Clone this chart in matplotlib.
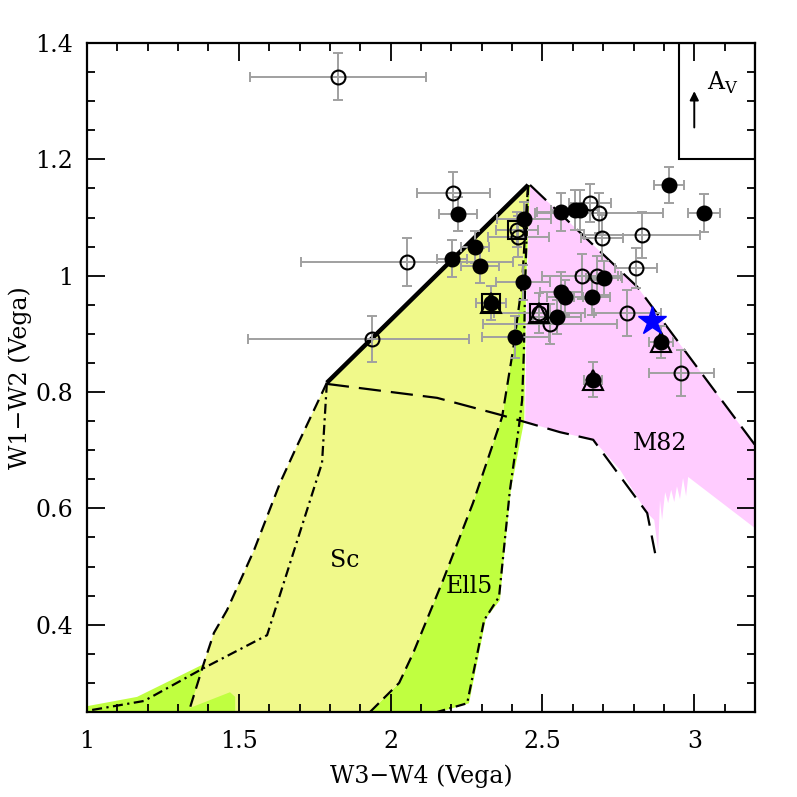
import matplotlib
matplotlib.use("Agg")
import matplotlib.pyplot as plt
from matplotlib.ticker import MultipleLocator, FormatStrFormatter
from matplotlib.patches import Rectangle

# ── template tracks (W3-W4, W1-W2) ───────────────────────────────────────────
sc_solid_x = [1.790, 2.453]
sc_solid_y = [0.816, 1.156]

sc_dash_x = [1.790, 1.685, 1.636, 1.550, 1.461, 1.418, 1.385, 1.339]
sc_dash_y = [0.816, 0.700, 0.644, 0.528, 0.425, 0.386, 0.334, 0.257]

sc_dashdot_x = [1.790, 1.774, 1.593, 1.379, 1.188, 1.000]
sc_dashdot_y = [0.816, 0.678, 0.382, 0.324, 0.269, 0.252]

ell_dash_x = [2.453, 2.449, 2.433, 2.403, 2.367, 2.271, 2.173, 2.074, 2.028, 2.005, 1.932]
ell_dash_y = [1.156, 1.130, 0.987, 0.872, 0.757, 0.609, 0.477, 0.351, 0.300, 0.288, 0.250]

ell_dashdot_x = [2.453, 2.443, 2.439, 2.433, 2.423, 2.393, 2.367, 2.357, 2.308, 2.281, 2.252, 2.153]
ell_dashdot_y = [1.156, 0.987, 0.872, 0.786, 0.743, 0.632, 0.499, 0.448, 0.408, 0.339, 0.265, 0.250]

m82_upper_x = [2.459, 2.812, 3.200]
m82_upper_y = [1.156, 0.981, 0.709]

m82_lower_x = [1.790, 2.153, 2.360, 2.558, 2.667, 2.845, 2.871]
m82_lower_y = [0.814, 0.790, 0.761, 0.731, 0.718, 0.592, 0.523]

# filled regions
sc_fill_x = [1.790, 2.453, 2.449, 2.433, 2.403, 2.367, 2.271, 2.173, 2.074, 2.028,
             2.005, 1.932, 1.488, 1.488, 1.471, 1.339, 1.385, 1.418, 1.461, 1.550,
             1.636, 1.685]
sc_fill_y = [0.816, 1.156, 1.130, 0.987, 0.872, 0.757, 0.609, 0.477, 0.351, 0.300,
             0.288, 0.250, 0.250, 0.276, 0.284, 0.257, 0.334, 0.386, 0.425, 0.528,
             0.644, 0.700]

ell_fill_x = ell_dash_x + [2.162, 2.258, 2.314, 2.360, 2.370, 2.396, 2.440, 2.446, 2.459]
ell_fill_y = ell_dash_y + [0.250, 0.265, 0.411, 0.442, 0.499, 0.632, 0.751, 0.987, 1.156]

low_fill_x = [1.000, 1.000, 1.165, 1.379, 1.491, 1.491]
low_fill_y = [0.250, 0.260, 0.276, 0.331, 0.276, 0.250]

m82_fill_x = [2.459, 2.812, 3.200, 3.200, 2.980, 2.973, 2.963, 2.953, 2.943, 2.934,
              2.924, 2.914, 2.904, 2.894, 2.887, 2.881, 2.868, 2.845, 2.756, 2.667,
              2.558, 2.443, 2.446, 2.449]
m82_fill_y = [1.156, 0.981, 0.709, 0.566, 0.654, 0.621, 0.652, 0.616, 0.638, 0.611,
              0.632, 0.609, 0.628, 0.580, 0.614, 0.528, 0.580, 0.592, 0.666, 0.718,
              0.731, 0.749, 0.872, 0.987]

# ── sources ──────────────────────────────────────────────────────────────────
open_x = [1.827, 2.206, 2.054, 1.939, 2.416, 2.420, 2.657, 2.686, 2.696, 2.828,
          2.808, 2.630, 2.680, 2.779, 2.957, 2.489, 2.525]
open_y = [1.342, 1.142, 1.024, 0.891, 1.079, 1.067, 1.125, 1.108, 1.065, 1.070,
          1.013, 0.999, 0.999, 0.936, 0.833, 0.936, 0.917]
open_xlo = [0.29, 0.12, 0.35, 0.41, 0.07, 0.10, 0.07, 0.21, 0.07, 0.19,
            0.07, 0.13, 0.07, 0.11, 0.107, 0.15, 0.22]
open_xhi = [0.29, 0.12, 0.35, 0.32, 0.07, 0.10, 0.07, 0.21, 0.07, 0.19,
            0.07, 0.13, 0.07, 0.11, 0.107, 0.15, 0.22]
open_yerr = [0.040, 0.036, 0.041, 0.040, 0.030, 0.035, 0.033, 0.035, 0.040, 0.040,
             0.035, 0.039, 0.035, 0.040, 0.039, 0.035, 0.035]

fill_x = [2.222, 2.278, 2.202, 2.294, 2.439, 2.436, 2.331, 2.410, 2.561, 2.607,
          2.624, 2.917, 3.032, 2.561, 2.574, 2.663, 2.703, 2.548, 2.891, 2.667]
fill_y = [1.106, 1.049, 1.029, 1.017, 1.097, 0.989, 0.953, 0.894, 1.109, 1.113,
          1.113, 1.156, 1.108, 0.972, 0.963, 0.963, 0.996, 0.929, 0.886, 0.821]
fill_xerr = [0.064, 0.045, 0.05, 0.063, 0.09, 0.09, 0.05, 0.11, 0.08, 0.08,
             0.06, 0.05, 0.053, 0.07, 0.06, 0.06, 0.06, 0.08, 0.04, 0.03]
fill_yerr = [0.030, 0.027, 0.032, 0.030, 0.030, 0.030, 0.030, 0.036, 0.033, 0.035,
             0.035, 0.031, 0.033, 0.035, 0.030, 0.030, 0.030, 0.030, 0.028, 0.030]

tri_x = [2.891, 2.667, 2.331, 2.489]
tri_y = [0.886, 0.821, 0.953, 0.936]

sq_x = [2.416, 2.331, 2.489]
sq_y = [1.079, 0.953, 0.936]

star_x = [2.861]
star_y = [0.922]

YELLOW = "#f0f98a"
GREEN = "#c0ff40"
PINK = "#ffccff"
GREY = "#a0a0a0"
SERIF = "DejaVu Serif"

fig = plt.figure(figsize=(7.97, 7.97), dpi=100)
ax = fig.add_axes([87 / 797, 1 - 712 / 797, 668 / 797, 669 / 797])

ax.fill(low_fill_x, low_fill_y, color=GREEN, lw=0, zorder=1)
ax.fill(ell_fill_x, ell_fill_y, color=GREEN, lw=0, zorder=1)
ax.fill(m82_fill_x, m82_fill_y, color=PINK, lw=0, zorder=1)
ax.fill(sc_fill_x, sc_fill_y, color=YELLOW, lw=0, zorder=1.5)

ax.plot(sc_solid_x, sc_solid_y, color="black", lw=3.2, solid_capstyle="butt", zorder=2)
ax.plot(sc_dash_x, sc_dash_y, color="black", lw=1.6, dashes=(5.5, 3), zorder=2)
ax.plot(sc_dashdot_x, sc_dashdot_y, color="black", lw=1.6, dashes=(4.5, 2, 1, 2), zorder=2)
ax.plot(ell_dash_x, ell_dash_y, color="black", lw=1.6, dashes=(5.5, 3), zorder=2)
ax.plot(ell_dashdot_x, ell_dashdot_y, color="black", lw=1.6, dashes=(4.5, 2, 1, 2), zorder=2)
ax.plot(m82_upper_x, m82_upper_y, color="black", lw=1.6, dashes=(10, 4.5), zorder=2)
ax.plot(m82_lower_x, m82_lower_y, color="black", lw=1.6, dashes=(10, 4.5), zorder=2)

# error bars
ax.errorbar(open_x, open_y, xerr=[open_xlo, open_xhi], yerr=open_yerr, fmt="none",
            ecolor=GREY, elinewidth=1.4, capsize=3.8, capthick=1.4, zorder=3)
ax.errorbar(fill_x, fill_y, xerr=fill_xerr, yerr=fill_yerr, fmt="none",
            ecolor=GREY, elinewidth=1.4, capsize=3.8, capthick=1.4, zorder=3)

ax.plot(open_x, open_y, "o", ms=10, mfc="none", mec="black", mew=1.5, zorder=4)
ax.plot(fill_x, fill_y, "o", ms=10.5, mfc="black", mec="black", zorder=4)
ax.plot(tri_x, tri_y, "^", ms=14, mfc="none", mec="black", mew=1.5, zorder=4)
ax.plot(sq_x, sq_y, "s", ms=12.5, mfc="none", mec="black", mew=1.5, zorder=4)
ax.plot(star_x, star_y, "*", ms=21, mfc="blue", mec="blue", zorder=5)

# template names
ax.text(1.85, 0.511, "Sc", fontsize=17, family=SERIF, ha="center", va="center", zorder=6)
ax.text(2.26, 0.465, "Ell5", fontsize=17, family=SERIF, ha="center", va="center", zorder=6)
ax.text(2.887, 0.712, "M82", fontsize=17, family=SERIF, ha="center", va="center", zorder=6)

# reddening vector box
ax.add_patch(Rectangle((2.95, 1.2), 0.25, 0.2, fill=False, ec="black", lw=1.5, zorder=6))
ax.annotate("", xy=(3.0, 1.322), xytext=(3.0, 1.25),
            arrowprops=dict(arrowstyle="-|>", color="black", lw=1.4, mutation_scale=13),
            zorder=6)
ax.text(3.095, 1.331, r"A$_\mathregular{V}$", fontsize=17, family=SERIF,
        ha="center", va="center", zorder=6)

ax.set_xlim(1.0, 3.2)
ax.set_ylim(0.25, 1.4)
ax.xaxis.set_major_locator(MultipleLocator(0.5))
ax.xaxis.set_minor_locator(MultipleLocator(0.1))
ax.yaxis.set_major_locator(MultipleLocator(0.2))
ax.yaxis.set_minor_locator(MultipleLocator(0.05))
ax.xaxis.set_major_formatter(FormatStrFormatter("%g"))
ax.yaxis.set_major_formatter(FormatStrFormatter("%g"))
ax.tick_params(which="both", direction="in", top=True, right=True, width=1.3,
               labelsize=17)
ax.tick_params(which="major", length=13)
ax.tick_params(which="minor", length=6)
ax.tick_params(axis="x", pad=13)
ax.tick_params(axis="y", pad=10)
for lab in ax.get_xticklabels() + ax.get_yticklabels():
    lab.set_family(SERIF)
for spine in ax.spines.values():
    spine.set_linewidth(1.6)

ax.set_xlabel("W3\u2212W4 (Vega)", fontsize=17, family=SERIF, labelpad=8)
ax.set_ylabel("W1\u2212W2 (Vega)", fontsize=17, family=SERIF, labelpad=2)

fig.savefig("out.png", dpi=100)
